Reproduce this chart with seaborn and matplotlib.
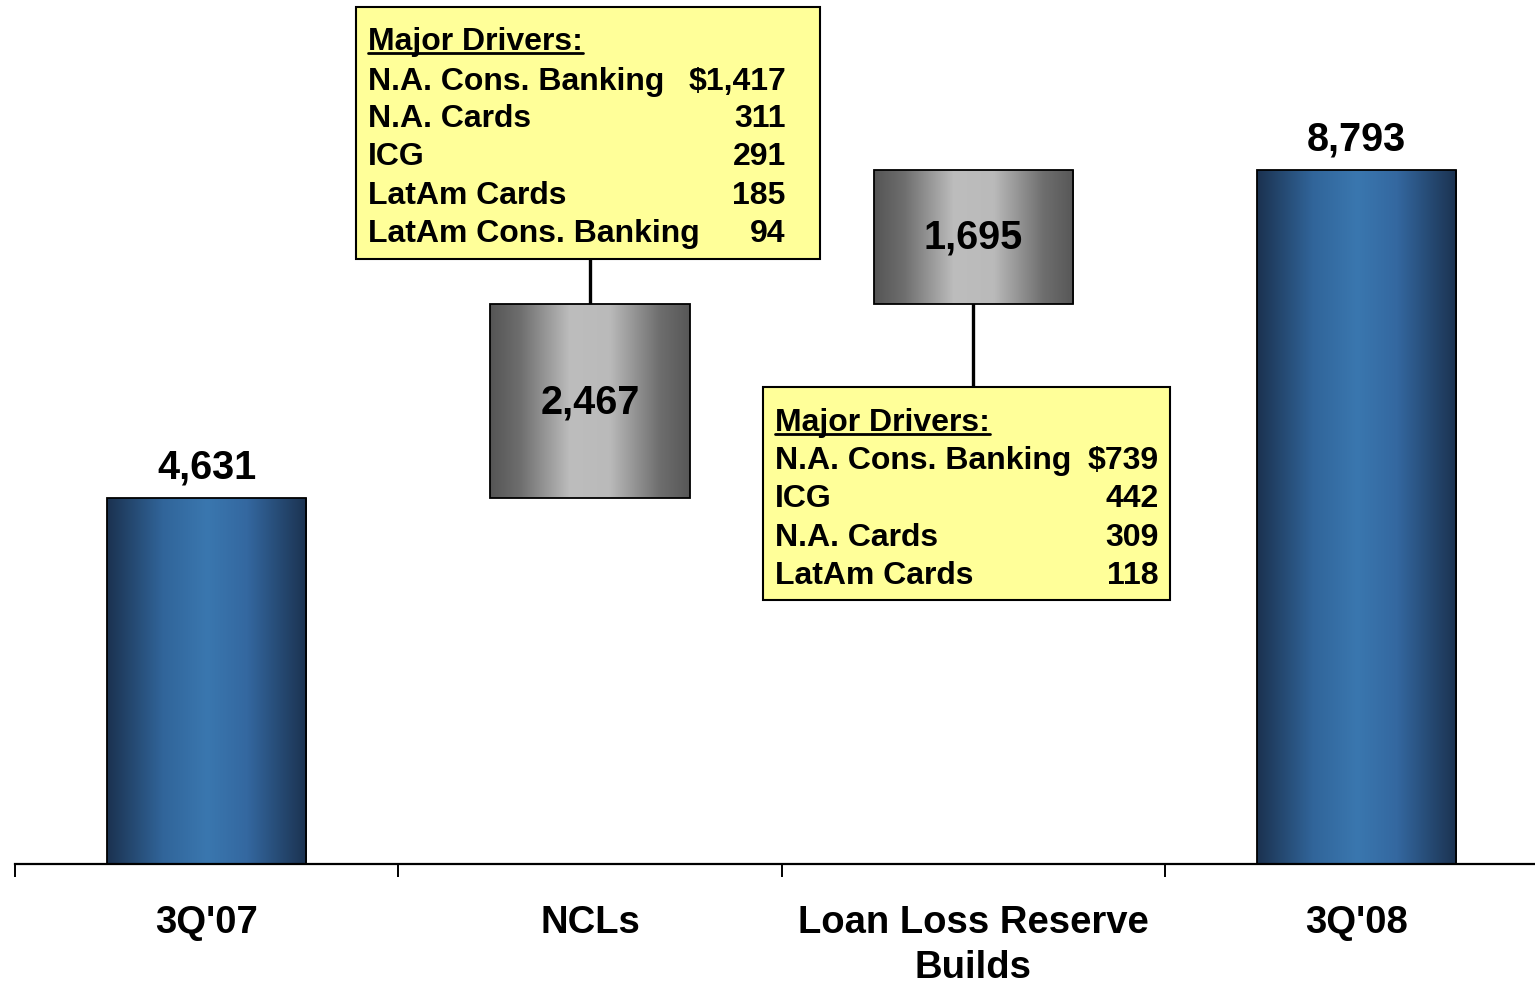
import numpy as np
import pandas as pd
import seaborn as sns
import matplotlib.pyplot as plt
from matplotlib.colors import LinearSegmentedColormap
from matplotlib.patches import Rectangle
from matplotlib.lines import Line2D

# data
categories = ["3Q'07", "NCLs", "Loan Loss Reserve\nBuilds", "3Q'08"]
amounts = [4631, 2467, 1695, 8793]
kinds = ['total', 'step', 'step', 'total']

ncl_drivers = ['N.A. Cons. Banking', 'N.A. Cards', 'ICG', 'LatAm Cards', 'LatAm Cons. Banking']
ncl_values = ['$1,417', '311', '291', '185', '94']
llr_drivers = ['N.A. Cons. Banking', 'ICG', 'N.A. Cards', 'LatAm Cards']
llr_values = ['$739', '442', '309', '118']

# waterfall bottoms
bottoms = []
running = 0
for a, k in zip(amounts, kinds):
    if k == 'total':
        bottoms.append(0)
        running = a
    else:
        bottoms.append(running)
        running += a

df = pd.DataFrame({'cat': categories, 'value': amounts, 'bottom': bottoms, 'kind': kinds})

sns.set_style('white')
plt.rcParams['font.family'] = ['Liberation Sans', 'DejaVu Sans']
plt.rcParams['font.weight'] = 'bold'
plt.rcParams['text.color'] = 'black'
plt.rcParams['xtick.color'] = 'black'
plt.rcParams['xtick.labelcolor'] = 'black'

fig = plt.figure(figsize=(15.35, 9.87), dpi=100)
ax = fig.add_axes([15 / 1535, 122 / 987, 1533.3 / 1535, 860 / 987])

sns.barplot(data=df, x='cat', y='value', order=categories, bottom=df['bottom'].values,
            width=0.52, color='#3a76ae', edgecolor='black', linewidth=1.3, ax=ax)

blue = LinearSegmentedColormap.from_list('blue', [(0, '#1b3250'), (0.28, '#31659a'),
                                                   (0.5, '#3a77af'), (0.7, '#3468a0'),
                                                   (1, '#1b3250')])
gray = LinearSegmentedColormap.from_list('gray', [(0, '#555555'), (0.15, '#6e6e6e'),
                                                   (0.4, '#bdbdbd'), (0.6, '#bababa'),
                                                   (0.85, '#6e6e6e'), (1, '#575757')])
grad = np.linspace(0, 1, 256).reshape(1, -1)
for patch, kind in zip(ax.patches, df['kind']):
    x0, y0 = patch.get_x(), patch.get_y()
    w, h = patch.get_width(), patch.get_height()
    im = ax.imshow(grad, cmap=blue if kind == 'total' else gray, aspect='auto',
                   extent=[x0, x0 + w, y0, y0 + h], zorder=2, interpolation='bicubic')
    im.set_clip_path(patch)
    patch.set_facecolor('none')
    patch.set_zorder(3)

ax.set_xlim(-0.5, 3.5)
ax.set_ylim(0, 10896)

# value labels
for i, (a, b, k) in enumerate(zip(amounts, bottoms, kinds)):
    if k == 'total':
        ax.annotate(f'{a:,}', (i, a), xytext=(0, 15), textcoords='offset points',
                    ha='center', va='baseline', fontsize=28.5, fontweight='bold', zorder=5)
    else:
        ax.text(i, b + a / 2, f'{a:,}', ha='center', va='center', fontsize=28.5,
                fontweight='bold', zorder=5)

# axis styling
for s in ['left', 'top', 'right']:
    ax.spines[s].set_visible(False)
ax.spines['bottom'].set_linewidth(1.6)
ax.spines['bottom'].set_color('black')
ax.set_yticks([])
ax.set_xticks(range(len(categories)))
ax.set_xticklabels(categories, fontsize=27.5, fontweight='bold', linespacing=1.3)
ax.set_xticks(np.arange(-0.5, len(categories), 1), minor=True)
ax.tick_params(axis='x', which='major', bottom=True, length=0, pad=29)
ax.tick_params(axis='x', which='minor', bottom=True, length=9, width=1.4, color='black',
               direction='out')
ax.set_xlabel('')
ax.set_ylabel('')

# driver boxes
def driver_box(x0, x1, y0, y1, tx, vx, baselines, names, vals):
    ax.add_patch(Rectangle((x0, y0), x1 - x0, y1 - y0, facecolor='#ffff99',
                           edgecolor='black', linewidth=1.5, zorder=4))
    head = ax.text(tx, baselines[0], 'Major Drivers:', ha='left', va='baseline',
                   fontsize=23, fontweight='bold', zorder=5)
    for yb, n, v in zip(baselines[1:], names, vals):
        ax.text(tx, yb, n, ha='left', va='baseline', fontsize=23, fontweight='bold', zorder=5)
        ax.text(vx, yb, v, ha='right', va='baseline', fontsize=23, fontweight='bold', zorder=5)
    return head

h1 = driver_box(0.389, 1.599, 7665, 10858, 0.420, 1.511,
                [10326, 9819, 9350, 8868, 8374, 7893], ncl_drivers, ncl_values)
h2 = driver_box(1.451, 2.512, 3345, 6043, 1.482, 2.484,
                [5499, 5017, 4536, 4042, 3560], llr_drivers, llr_values)

# connectors
ax.plot([1, 1], [bottoms[1] + amounts[1], 7665], color='black', lw=2.4, zorder=1)
ax.plot([2, 2], [bottoms[2], 6043], color='black', lw=2.4, zorder=1)

# underline the headers
fig.canvas.draw()
r = fig.canvas.get_renderer()
for t in [h1, h2]:
    bb = t.get_window_extent(r)
    base = ax.transData.transform((0, t.get_position()[1]))[1]
    y = base - 4
    fig.add_artist(Line2D([bb.x0 / fig.bbox.width, bb.x1 / fig.bbox.width],
                          [y / fig.bbox.height, y / fig.bbox.height],
                          color='black', lw=2, zorder=6))

fig.savefig('out.png', dpi=100)
